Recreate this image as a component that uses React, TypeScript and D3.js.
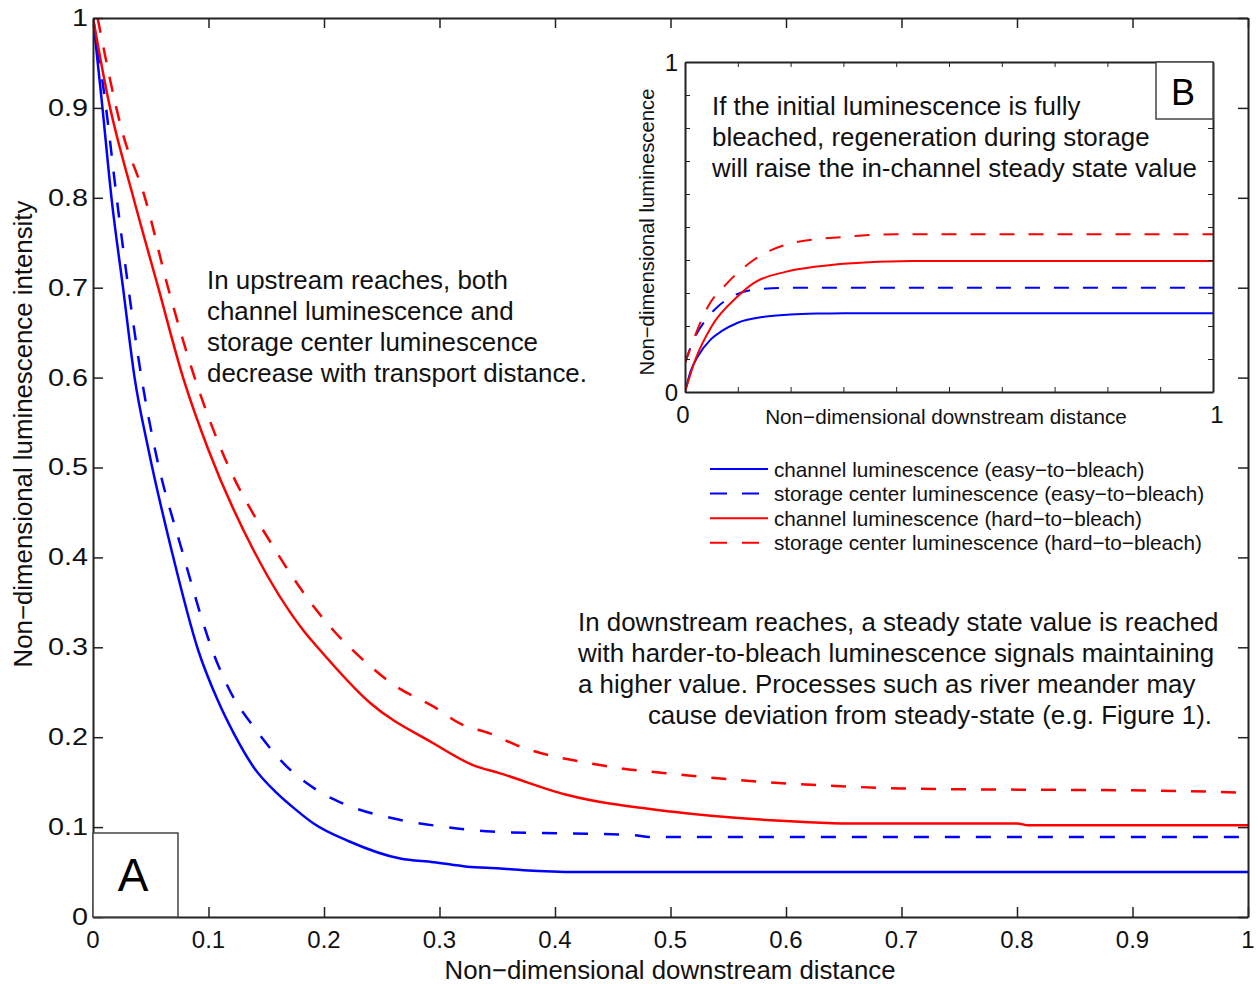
import React, { useEffect, useRef } from 'react';
import * as d3 from 'd3';

// panel A: luminescence vs downstream distance
const easyChannelX = [0, 0.0075, 0.016, 0.026, 0.036, 0.048, 0.068, 0.091, 0.108, 0.122, 0.14, 0.159, 0.175, 0.191, 0.222, 0.266, 0.295, 0.324, 0.352, 0.373, 0.42, 1.0];
const easyChannelY = [1, 0.909, 0.8, 0.7, 0.6, 0.52, 0.408, 0.297, 0.241, 0.204, 0.165, 0.138, 0.12, 0.104, 0.084, 0.065, 0.061, 0.056, 0.054, 0.052, 0.05, 0.05];
const easyStorageX = [0, 0.0104, 0.0205, 0.0306, 0.042, 0.0537, 0.077, 0.1056, 0.123, 0.136, 0.165, 0.194, 0.217, 0.266, 0.3, 0.345, 0.468, 0.482, 1.0];
const easyStorageY = [1, 0.909, 0.8, 0.7, 0.6, 0.52, 0.408, 0.289, 0.241, 0.217, 0.171, 0.141, 0.126, 0.108, 0.101, 0.095, 0.091, 0.089, 0.089];
const hardChannelX = [0, 0.0133, 0.035, 0.0565, 0.078, 0.0998, 0.139, 0.182, 0.1965, 0.24, 0.295, 0.329, 0.352, 0.41, 0.502, 0.612, 0.655, 0.8, 0.81, 1.0];
const hardChannelY = [1, 0.909, 0.8, 0.7, 0.6, 0.52, 0.408, 0.319, 0.297, 0.238, 0.193, 0.169, 0.16, 0.136, 0.117, 0.106, 0.104, 0.104, 0.102, 0.102];
const hardStorageX = [0.004, 0.0248, 0.045, 0.065, 0.088, 0.111, 0.158, 0.208, 0.228, 0.263, 0.295, 0.318, 0.344, 0.367, 0.439, 0.511, 0.583, 0.655, 0.7, 0.95, 1.0];
const hardStorageY = [1, 0.876, 0.8, 0.7, 0.6, 0.52, 0.408, 0.319, 0.293, 0.256, 0.234, 0.215, 0.204, 0.191, 0.169, 0.158, 0.15, 0.145, 0.143, 0.14, 0.138];

// panel B: fully bleached start, regeneration in storage
const regenEasyChannelX = [0, 0.01, 0.025, 0.048, 0.07, 0.1, 0.15, 0.2, 0.26, 0.3, 1];
const regenEasyChannelY = [0, 0.06, 0.11, 0.158, 0.185, 0.21, 0.228, 0.235, 0.238, 0.239, 0.239];
const regenEasyStorageX = [0, 0.02, 0.04, 0.063, 0.09, 0.13, 0.2, 1];
const regenEasyStorageY = [0.09, 0.17, 0.22, 0.26, 0.29, 0.31, 0.316, 0.316];
const regenHardChannelX = [0, 0.02, 0.05, 0.1, 0.13, 0.19, 0.25, 0.3, 0.43, 1];
const regenHardChannelY = [0, 0.1, 0.198, 0.29, 0.33, 0.364, 0.38, 0.389, 0.397, 0.397];
const regenHardStorageX = [0, 0.044, 0.08, 0.13, 0.2, 0.3, 0.4, 1];
const regenHardStorageY = [0.087, 0.26, 0.33, 0.4, 0.45, 0.47, 0.478, 0.478];

const mainTicks = [0, 0.1, 0.2, 0.3, 0.4, 0.5, 0.6, 0.7, 0.8, 0.9, 1];
const mainTickLabels = ['0', '0.1', '0.2', '0.3', '0.4', '0.5', '0.6', '0.7', '0.8', '0.9', '1'];
const insetTicks = [0, 0.1, 0.2, 0.3, 0.4, 0.5, 0.6, 0.7, 0.8, 0.9, 1];
const insetTickLabels = ['0', '1'];

const legendLabels = [
  'channel luminescence (easy\u2212to\u2212bleach)',
  'storage center luminescence (easy\u2212to\u2212bleach)',
  'channel luminescence (hard\u2212to\u2212bleach)',
  'storage center luminescence (hard\u2212to\u2212bleach)'
];
const upstreamNote = [
  'In upstream reaches, both',
  'channel luminescence and',
  'storage center luminescence',
  'decrease with transport distance.'
];
const downstreamNote = [
  'In downstream reaches, a steady state value is reached',
  'with harder-to-bleach luminescence signals maintaining',
  'a higher value. Processes such as river meander may',
  'cause deviation from steady-state (e.g. Figure 1).'
];
const insetNote = [
  'If the initial luminescence is fully',
  'bleached, regeneration during storage',
  'will raise the in-channel steady state value'
];

const FONT = '"Liberation Sans", Arial, Helvetica, sans-serif';
const BLUE = '#0000ff';
const RED = '#ff0000';

export default function App() {
  const ref = useRef<SVGSVGElement>(null);

  useEffect(() => {
    const svg = d3.select(ref.current);
    svg.selectAll('*').remove();
    svg.append('rect').attr('width', 1258).attr('height', 984).attr('fill', '#fff');

    // ---------- panel A ----------
    const x = d3.scaleLinear().domain([0, 1]).range([93, 1248]);
    const y = d3.scaleLinear().domain([0, 1]).range([917, 18]);

    svg.append('clipPath').attr('id', 'clipA')
      .append('rect').attr('x', 93).attr('y', 18).attr('width', 1155).attr('height', 899);

    const mainSeries = [
      { xs: easyChannelX, ys: easyChannelY, color: BLUE, dash: null },
      { xs: easyStorageX, ys: easyStorageY, color: BLUE, dash: '15 16' },
      { xs: hardChannelX, ys: hardChannelY, color: RED, dash: null },
      { xs: hardStorageX, ys: hardStorageY, color: RED, dash: '15 15' }
    ];
    const lineA = d3.line<number>()
      .x(d => x(d[0]))
      .y(d => y(d[1]))
      .curve(d3.curveMonotoneX);
    mainSeries.forEach(s => {
      svg.append('path')
        .datum(s.xs.map((v, i) => [v, s.ys[i]]))
        .attr('clip-path', 'url(#clipA)')
        .attr('fill', 'none')
        .attr('stroke', s.color)
        .attr('stroke-width', 2.5)
        .attr('stroke-dasharray', s.dash)
        .attr('d', lineA as any);
    });

    // inward ticks on all four sides
    const tickA = (g, axis) => g.call(axis).call(gg => gg.selectAll('text').remove())
      .call(gg => gg.selectAll('line').attr('stroke', '#222').attr('stroke-width', 1.5))
      .call(gg => gg.select('.domain').attr('stroke', '#222').attr('stroke-width', 2));
    svg.append('g').attr('transform', 'translate(0,917)')
      .call(g => tickA(g, d3.axisBottom(x).tickValues(mainTicks).tickSizeInner(-10).tickSizeOuter(0)));
    svg.append('g').attr('transform', 'translate(0,18)')
      .call(g => tickA(g, d3.axisTop(x).tickValues(mainTicks).tickSizeInner(-10).tickSizeOuter(0)));
    svg.append('g').attr('transform', 'translate(93,0)')
      .call(g => tickA(g, d3.axisLeft(y).tickValues(mainTicks).tickSizeInner(-10).tickSizeOuter(0)));
    svg.append('g').attr('transform', 'translate(1248,0)')
      .call(g => tickA(g, d3.axisRight(y).tickValues(mainTicks).tickSizeInner(-10).tickSizeOuter(0)));

    svg.append('g').selectAll('text').data(mainTicks).join('text')
      .attr('x', d => x(d)).attr('y', 939)
      .attr('text-anchor', 'middle').attr('dominant-baseline', 'central')
      .attr('font-family', FONT).attr('font-size', 24).attr('fill', '#111')
      .text((d, i) => mainTickLabels[i]);
    svg.append('g').selectAll('text').data(mainTicks).join('text')
      .attr('transform', d => `translate(88,${y(d)}) scale(1.25,1)`)
      .attr('text-anchor', 'end').attr('dominant-baseline', 'central')
      .attr('font-family', FONT).attr('font-size', 23).attr('fill', '#111')
      .text((d, i) => mainTickLabels[i]);

    svg.append('text').attr('x', 670).attr('y', 970)
      .attr('text-anchor', 'middle').attr('dominant-baseline', 'central')
      .attr('font-family', FONT).attr('font-size', 25.8).attr('fill', '#111')
      .text('Non\u2212dimensional downstream distance');
    svg.append('text').attr('transform', 'translate(23,434) rotate(-90)')
      .attr('text-anchor', 'middle').attr('dominant-baseline', 'central')
      .attr('font-family', FONT).attr('font-size', 25.8).attr('fill', '#111')
      .text('Non\u2212dimensional luminescence intensity');

    // box A
    svg.append('rect').attr('x', 93).attr('y', 833).attr('width', 85).attr('height', 84)
      .attr('fill', '#fff').attr('stroke', '#444').attr('stroke-width', 1.5);
    svg.append('text').attr('x', 133).attr('y', 875)
      .attr('text-anchor', 'middle').attr('dominant-baseline', 'central')
      .attr('font-family', FONT).attr('font-size', 46).attr('fill', '#000').text('A');

    svg.append('g').selectAll('text').data(upstreamNote).join('text')
      .attr('x', 207).attr('y', (d, i) => 289 + i * 31)
      .attr('font-family', FONT).attr('font-size', 25.9).attr('fill', '#111')
      .text(d => d);
    svg.append('g').selectAll('text').data(downstreamNote).join('text')
      .attr('x', (d, i) => i < 3 ? 578 : 1212)
      .attr('text-anchor', (d, i) => i < 3 ? 'start' : 'end')
      .attr('y', (d, i) => 631 + i * 31)
      .attr('font-family', FONT).attr('font-size', 25.9).attr('fill', '#111')
      .text(d => d);

    // legend
    const legendStyles = [
      { color: BLUE, dash: null }, { color: BLUE, dash: '17 15' },
      { color: RED, dash: null }, { color: RED, dash: '17 15' }
    ];
    const lg = svg.append('g');
    legendLabels.forEach((t, i) => {
      const ly = 469 + i * 24.6;
      lg.append('line').attr('x1', 710).attr('x2', 768).attr('y1', ly).attr('y2', ly)
        .attr('stroke', legendStyles[i].color).attr('stroke-width', 2)
        .attr('stroke-dasharray', legendStyles[i].dash);
      lg.append('text').attr('x', 774).attr('y', ly).attr('dominant-baseline', 'central')
        .attr('font-family', FONT).attr('font-size', 20.7).attr('fill', '#111').text(t);
    });

    // ---------- panel B (inset) ----------
    const xi = d3.scaleLinear().domain([0, 1]).range([685, 1213]);
    const yi = d3.scaleLinear().domain([0, 1]).range([392, 62]);
    svg.append('rect').attr('x', 685).attr('y', 62).attr('width', 528).attr('height', 330).attr('fill', '#fff');
    svg.append('clipPath').attr('id', 'clipB')
      .append('rect').attr('x', 685).attr('y', 62).attr('width', 528).attr('height', 330);

    const insetSeries = [
      { xs: regenEasyChannelX, ys: regenEasyChannelY, color: BLUE, dash: null },
      { xs: regenEasyStorageX, ys: regenEasyStorageY, color: BLUE, dash: '15 14' },
      { xs: regenHardChannelX, ys: regenHardChannelY, color: RED, dash: null },
      { xs: regenHardStorageX, ys: regenHardStorageY, color: RED, dash: '15 14' }
    ];
    const lineB = d3.line<number>()
      .x(d => xi(d[0]))
      .y(d => yi(d[1]))
      .curve(d3.curveMonotoneX);
    insetSeries.forEach(s => {
      svg.append('path')
        .datum(s.xs.map((v, i) => [v, s.ys[i]]))
        .attr('clip-path', 'url(#clipB)')
        .attr('fill', 'none')
        .attr('stroke', s.color)
        .attr('stroke-width', 2)
        .attr('stroke-dasharray', s.dash)
        .attr('d', lineB as any);
    });

    const tickB = (g, axis) => g.call(axis).call(gg => gg.selectAll('text').remove())
      .call(gg => gg.selectAll('line').attr('stroke', '#222').attr('stroke-width', 1))
      .call(gg => gg.select('.domain').attr('stroke', '#222').attr('stroke-width', 2));
    svg.append('g').attr('transform', 'translate(0,392)')
      .call(g => tickB(g, d3.axisBottom(xi).tickValues(insetTicks).tickSizeInner(-5).tickSizeOuter(0)));
    svg.append('g').attr('transform', 'translate(0,62)')
      .call(g => tickB(g, d3.axisTop(xi).tickValues(insetTicks).tickSizeInner(-5).tickSizeOuter(0)));
    svg.append('g').attr('transform', 'translate(685,0)')
      .call(g => tickB(g, d3.axisLeft(yi).tickValues(insetTicks).tickSizeInner(-5).tickSizeOuter(0)));
    svg.append('g').attr('transform', 'translate(1213,0)')
      .call(g => tickB(g, d3.axisRight(yi).tickValues(insetTicks).tickSizeInner(-5).tickSizeOuter(0)));

    svg.append('g').selectAll('text').data([0, 1]).join('text')
      .attr('x', d => xi(d) - 2 + d * 6).attr('y', 414)
      .attr('text-anchor', 'middle').attr('dominant-baseline', 'central')
      .attr('font-family', FONT).attr('font-size', 24).attr('fill', '#111')
      .text((d, i) => insetTickLabels[i]);
    svg.append('g').selectAll('text').data([0, 1]).join('text')
      .attr('x', 678).attr('y', d => yi(d))
      .attr('text-anchor', 'end').attr('dominant-baseline', 'central')
      .attr('font-family', FONT).attr('font-size', 24).attr('fill', '#111')
      .text((d, i) => insetTickLabels[i]);

    svg.append('text').attr('x', 946).attr('y', 416)
      .attr('text-anchor', 'middle').attr('dominant-baseline', 'central')
      .attr('font-family', FONT).attr('font-size', 20.7).attr('fill', '#111')
      .text('Non\u2212dimensional downstream distance');
    svg.append('text').attr('transform', 'translate(647,232) rotate(-90)')
      .attr('text-anchor', 'middle').attr('dominant-baseline', 'central')
      .attr('font-family', FONT).attr('font-size', 20.3).attr('fill', '#111')
      .text('Non\u2212dimensional luminescence');

    svg.append('g').selectAll('text').data(insetNote).join('text')
      .attr('x', 712).attr('y', (d, i) => 115 + i * 31)
      .attr('font-family', FONT).attr('font-size', 25.9).attr('fill', '#111')
      .text(d => d);

    // box B
    svg.append('rect').attr('x', 1156).attr('y', 62).attr('width', 57).attr('height', 57)
      .attr('fill', '#fff').attr('stroke', '#444').attr('stroke-width', 1.5);
    svg.append('text').attr('x', 1183).attr('y', 92)
      .attr('text-anchor', 'middle').attr('dominant-baseline', 'central')
      .attr('font-family', FONT).attr('font-size', 36).attr('fill', '#000').text('B');
  }, []);

  return (
    <svg ref={ref} width={1258} height={984}
      style={{ position: 'absolute', left: 0, top: 0, display: 'block' }} />
  );
}
